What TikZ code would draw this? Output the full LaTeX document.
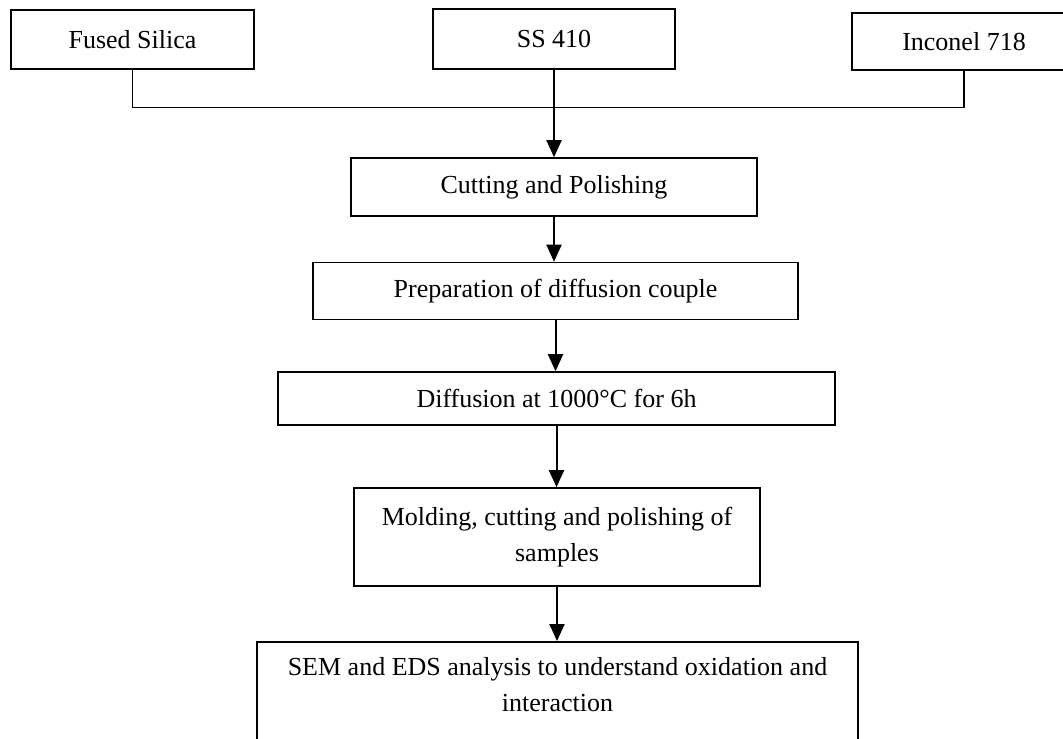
\documentclass[tikz,border=0pt]{standalone}
\usepackage{fontspec}
\setmainfont{Liberation Serif}
\usetikzlibrary{arrows.meta,positioning}

\tikzset{
  StepBox/.style={draw=black,line width=0.8pt,fill=white,inner sep=2pt,
    align=center,font=\fontsize{13}{18}\selectfont},
  JoinLine/.style={draw=black,line width=0.75pt},
  FlowArrow/.style={draw=black,line width=1pt,
    -{Triangle[length=8.5pt,width=7.5pt]}}
}

\begin{document}
\begin{tikzpicture}[x=0.5pt,y=-0.5pt]
\useasboundingbox (0,0) rectangle (1063,738);

% starting materials
\node[StepBox,minimum width=121.5pt,minimum height=29.5pt] (silica) at (132.5,39.5) {Fused Silica};
\node[StepBox,minimum width=121pt,minimum height=30pt] (ss) at (554,39) {SS 410};
\node[StepBox,minimum width=112pt,minimum height=28.5pt] (inconel) at (964,41.5) {Inconel 718};
\coordinate (join) at (554,107.5);

% process steps
\node[StepBox,minimum width=203pt,minimum height=29pt] (cutting) at (554,187) {Cutting and Polishing};
\node[StepBox,minimum width=242.5pt,minimum height=28.5pt] (couple) at (555.5,291) {Preparation of diffusion couple};
\node[StepBox,minimum width=278.5pt,minimum height=26.5pt] (diffusion) at (556.5,398.5) {Diffusion at 1000°C for 6h};
\node[StepBox,minimum width=203pt,minimum height=49pt] (molding) at (557,537) {Molding, cutting and polishing of\\samples};
\node[StepBox,minimum width=300.5pt,anchor=north,inner ysep=8pt,text depth=60pt] (sem) at (557.5,641)
  {SEM and EDS analysis to understand oxidation and\\interaction};

% connectors
\draw[JoinLine] (silica.south) |- (join) -| (inconel.south);
\draw[JoinLine] (ss.south) -- (join);
\draw[FlowArrow] (join) -- (join |- cutting.north);
\draw[FlowArrow] (cutting.south) -- (cutting.south |- couple.north);
\draw[FlowArrow] (couple.south) -- (couple.south |- diffusion.north);
\draw[FlowArrow] (diffusion.south) -- (diffusion.south |- molding.north);
\draw[FlowArrow] (molding.south) -- (molding.south |- sem.north);

\end{tikzpicture}
\end{document}
